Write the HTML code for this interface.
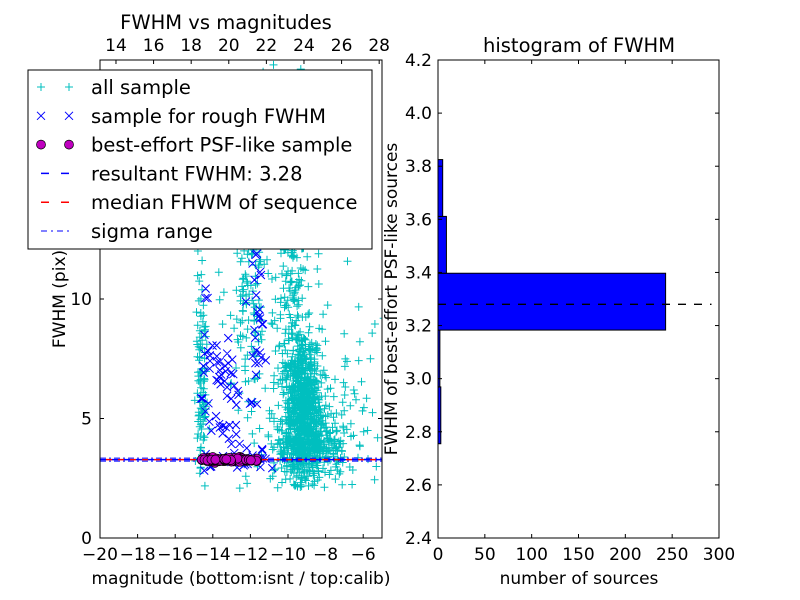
<!DOCTYPE html>
<html><head><meta charset="utf-8"><style>
body{margin:0;background:#fff}
svg{display:block;font-family:"DejaVu Sans","Liberation Sans",sans-serif}
</style></head><body>
<svg id="chart" width="800" height="600" viewBox="0 0 800 600">
<rect width="800" height="600" fill="#fff"/>
<g id="left"></g>
<g id="right"></g>
</svg>
<script>
// ---- scatter data (cluster descriptions: xCenter, xSpread, yCenter, ySpread, count) ----
const cyanClusters=[[-9.3,0.55,5.5,1.6,800],[-8.8,1.0,3.8,0.6,300],[-14.6,0.15,6,2.5,110],[-12.2,0.6,10,3,120],[-10.5,1.4,13,3,150],[-9.8,0.35,11,2,110],[-7,1.2,6,2,60]];
const blueClusters=[[-14.3,0.25,6.5,2,20],[-13.3,0.5,6,1.6,40],[-11.6,0.25,9,3,35],[-12.4,0.8,3.4,0.25,25]];
const psfRange=[-14.6,-11.6];
const psfCount=160;
const medianFWHM=3.28;
const resultFWHM=3.28;
const xTicks=[-20,-18,-16,-14,-12,-10,-8,-6];
const yTicks=[0,5,10];
const topTicks=[14,16,18,20,22,24,26,28];
// ---- histogram data ----
const binEdges=[2.755,2.969,3.183,3.397,3.611,3.825];
const binCounts=[3,2,243,9,5];
const hxTicks=[0,50,100,150,200,250,300];
const hyTicks=[2.4,2.6,2.8,3.0,3.2,3.4,3.6,3.8,4.0,4.2];

const NS="http://www.w3.org/2000/svg";
function el(p,t,a,txt){const e=document.createElementNS(NS,t);for(const k in a)e.setAttribute(k,a[k]);if(txt!==undefined)e.textContent=txt;p.appendChild(e);return e;}
const L={x0:100,x1:382,y0:538,y1:60};
const sx=v=>L.x0+(v+20)/15*(L.x1-L.x0);
const sy=v=>L.y0-v/20*(L.y0-L.y1);
const stop=v=>sx(v-33.15);
let seed=12345;
function rnd(){seed=(seed*1103515245+12345)%2147483648;return seed/2147483648;}
function gauss(){let u=rnd()||1e-6,v=rnd();return Math.sqrt(-2*Math.log(u))*Math.cos(2*Math.PI*v);}
function samp(c,min){let y;do{y=c+gauss();}while(false);return y;}
const left=document.getElementById('left');
el(left,'defs',{}).innerHTML='<clipPath id="cl"><rect x="100" y="60" width="282" height="478"/></clipPath>';
const plot=el(left,'g',{'clip-path':'url(#cl)'});
let d='';
cyanClusters.forEach(c=>{for(let i=0;i<c[4];i++){let yv;do{yv=c[2]+gauss()*c[3];}while(yv<2.0);const x=sx(c[0]+gauss()*c[1]),y=sy(yv);d+=`M${(x-4).toFixed(1)} ${y.toFixed(1)}h8M${x.toFixed(1)} ${(y-4).toFixed(1)}v8`;}});
const cy=el(plot,'path',{d:d,stroke:'#00bfbf','stroke-width':1,fill:'none'});

d='';
blueClusters.forEach(c=>{for(let i=0;i<c[4];i++){let yv;do{yv=c[2]+gauss()*c[3];}while(yv<2.8);const x=sx(c[0]+gauss()*c[1]),y=sy(yv);d+=`M${x-4} ${y-4}l8 8M${x-4} ${y+4}l8 -8`;}});
const bl=el(plot,'path',{d:d,stroke:'#0000ff','stroke-width':1,fill:'none'});

const ym=sy(medianFWHM);
el(plot,'line',{x1:L.x0,x2:L.x1,y1:ym,y2:ym,stroke:'#0000ff','stroke-width':1.5,'stroke-dasharray':'6 6'});
el(plot,'line',{x1:L.x0+6,x2:L.x1,y1:ym,y2:ym,stroke:'#ff0000','stroke-width':1.5,'stroke-dasharray':'6 6'});
el(plot,'line',{x1:L.x0,x2:L.x1,y1:ym+1.5,y2:ym+1.5,stroke:'#0000ff','stroke-width':1,'stroke-dasharray':'6 3 2 3'});
el(plot,'line',{x1:L.x0,x2:L.x1,y1:ym-1.5,y2:ym-1.5,stroke:'#0000ff','stroke-width':1,'stroke-dasharray':'6 3 2 3'});
const mg=el(plot,'g',{});

for(let i=0;i<psfCount;i++){const v=psfRange[0]+(psfRange[1]-psfRange[0])*rnd();el(mg,'circle',{cx:sx(v),cy:sy(medianFWHM+gauss()*0.04),r:4.5,fill:'#bf00bf',stroke:'#000','stroke-width':0.7});}
el(left,'rect',{x:L.x0,y:L.y1,width:L.x1-L.x0,height:L.y0-L.y1,fill:'none',stroke:'#000','stroke-width':1});
xTicks.forEach(t=>{const x=sx(t);el(left,'line',{x1:x,x2:x,y1:L.y0,y2:L.y0-4,stroke:'#000'});el(left,'text',{x:x,y:L.y0+22,'font-size':17,'text-anchor':'middle'},'\u2212'+Math.abs(t));});
topTicks.forEach(t=>{const x=stop(t);el(left,'line',{x1:x,x2:x,y1:L.y1,y2:L.y1+4,stroke:'#000'});el(left,'text',{x:x,y:L.y1-9,'font-size':17,'text-anchor':'middle'},t);});
yTicks.forEach(t=>{const y=sy(t);el(left,'line',{x1:L.x0,x2:L.x0+4,y1:y,y2:y,stroke:'#000'});el(left,'line',{x1:L.x1,x2:L.x1-4,y1:y,y2:y,stroke:'#000'});el(left,'text',{x:L.x0-8,y:y+6,'font-size':17,'text-anchor':'end'},t);});
el(left,'text',{x:241,y:584,'font-size':17,'text-anchor':'middle',},'magnitude (bottom:isnt / top:calib)');
el(left,'text',{x:226,y:29,'font-size':19.5,'text-anchor':'middle',},'FWHM vs magnitudes');
el(left,'text',{x:0,y:0,'font-size':17,'text-anchor':'middle',transform:'translate(65 299) rotate(-90)',},'FWHM (pix)');
const lg=el(left,'g',{});
el(lg,'rect',{x:28,y:70,width:344,height:179,fill:'#fff',stroke:'#000','stroke-width':1});
const labels=['all sample','sample for rough FWHM','best-effort PSF-like sample','resultant FWHM: 3.28','median FHWM of sequence','sigma range'];
labels.forEach((s,i)=>{const y=87+i*28.8;const g=el(lg,'g',{});
 if(i==0){[41,69].forEach(x=>el(g,'path',{d:`M${x-4} ${y}h8M${x} ${y-4}v8`,stroke:'#00bfbf',fill:'none'}));}
 if(i==1){[41,69].forEach(x=>el(g,'path',{d:`M${x-4} ${y-4}l8 8M${x-4} ${y+4}l8 -8`,stroke:'#0000ff',fill:'none'}));}
 if(i==2){[41,69].forEach(x=>el(g,'circle',{cx:x,cy:y,r:4.5,fill:'#bf00bf',stroke:'#000','stroke-width':0.7}));}
 if(i==3)el(g,'line',{x1:41,x2:73,y1:y,y2:y,stroke:'#0000ff','stroke-width':1.5,'stroke-dasharray':'8 12'});
 if(i==4)el(g,'line',{x1:41,x2:73,y1:y,y2:y,stroke:'#ff0000','stroke-width':1.5,'stroke-dasharray':'8 12'});
 if(i==5)el(g,'line',{x1:41,x2:73,y1:y,y2:y,stroke:'#0000ff','stroke-width':1,'stroke-dasharray':'6 4 2 4'});
 el(g,'text',{x:91,y:y+7,'font-size':19.5},s);});
const R={x0:438,x1:719,y0:538,y1:60};
const hx=v=>R.x0+v/300*(R.x1-R.x0);
const hy=v=>R.y0-(v-2.4)/1.8*(R.y0-R.y1);
const right=document.getElementById('right');
binCounts.forEach((c,i)=>{const r=el(right,'rect',{x:hx(0),y:hy(binEdges[i+1]),width:hx(c)-hx(0),height:hy(binEdges[i])-hy(binEdges[i+1]),fill:'#0000ff',stroke:'#000','stroke-width':1});
 });
el(right,'line',{x1:hx(0),x2:hx(292),y1:hy(resultFWHM),y2:hy(resultFWHM),stroke:'#000','stroke-width':1.3,'stroke-dasharray':'8 8',});
el(right,'rect',{x:R.x0,y:R.y1,width:R.x1-R.x0,height:R.y0-R.y1,fill:'none',stroke:'#000','stroke-width':1});
hxTicks.forEach(t=>{const x=hx(t);el(right,'line',{x1:x,x2:x,y1:R.y0,y2:R.y0-4,stroke:'#000'});el(right,'line',{x1:x,x2:x,y1:R.y1,y2:R.y1+4,stroke:'#000'});el(right,'text',{x:x,y:R.y0+22,'font-size':17,'text-anchor':'middle'},t);});
hyTicks.forEach(t=>{const y=hy(t);el(right,'line',{x1:R.x0,x2:R.x0+4,y1:y,y2:y,stroke:'#000'});el(right,'line',{x1:R.x1,x2:R.x1-4,y1:y,y2:y,stroke:'#000'});el(right,'text',{x:R.x0-6,y:y+6,'font-size':17,'text-anchor':'end'},t.toFixed(1));});
el(right,'text',{x:579,y:584,'font-size':17,'text-anchor':'middle',},'number of sources');
el(right,'text',{x:579,y:52,'font-size':19.5,'text-anchor':'middle',},'histogram of FWHM');
el(right,'text',{x:0,y:0,'font-size':17,'text-anchor':'middle',transform:'translate(397 299) rotate(-90)',},'FWHM of best-effort PSF-like sources');
</script>
</body></html>
